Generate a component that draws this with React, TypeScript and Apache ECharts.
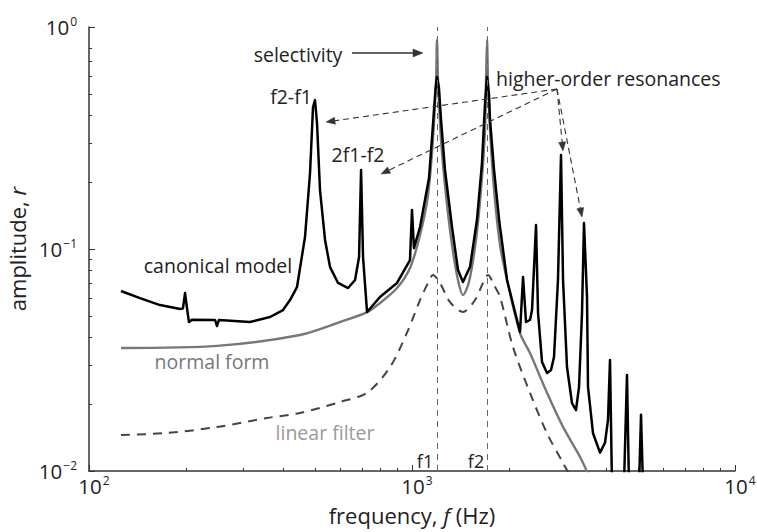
import React, { useEffect, useRef } from "react";
import * as echarts from "echarts";

const FONT = "'Open Sans', 'Noto Sans', sans-serif";

// Canonical model (black)
const canonicalFreq = [125.6, 143.8, 165.9, 191.3, 195.4, 198.3, 202.6, 204.0, 208.4, 245.5, 249.1, 252.6, 315.1, 363.5, 398.7, 419.1, 440.5, 466.4, 483.4, 493.8, 500.9, 508.0, 519.0, 538.0, 557.5, 590.3, 634.0, 666.3, 685.6, 695.5, 705.4, 725.8, 796.0, 898.7, 985.8, 1000, 1014, 1059, 1129, 1161, 1182, 1195, 1212, 1230, 1265, 1330, 1388, 1438, 1512, 1589, 1647, 1683, 1707, 1732, 1744, 1795, 1864, 1969, 2114, 2160, 2207, 2254, 2319, 2353, 2421, 2456, 2527, 2618, 2694, 2752, 2831, 2893, 2935, 3019, 3129, 3219, 3289, 3360, 3408, 3482, 3507, 3634, 3820, 3958, 4044, 4102, 4161, 4530, 4630, 4697, 5045, 5117, 5191];
const canonicalAmp = [0.0647, 0.0601, 0.0559, 0.0537, 0.054, 0.0633, 0.05, 0.0469, 0.048, 0.0479, 0.045, 0.0479, 0.0469, 0.0494, 0.0531, 0.0589, 0.0674, 0.1132, 0.2199, 0.4361, 0.469, 0.3694, 0.1844, 0.1098, 0.0829, 0.0703, 0.0667, 0.0725, 0.092, 0.2269, 0.092, 0.052, 0.0608, 0.0703, 0.0892, 0.1498, 0.101, 0.1256, 0.2089, 0.3619, 0.5202, 0.5956, 0.531, 0.3813, 0.2269, 0.1256, 0.0804, 0.071, 0.0829, 0.1351, 0.244, 0.4546, 0.5956, 0.494, 0.3813, 0.2269, 0.1323, 0.0725, 0.0479, 0.0423, 0.0748, 0.0469, 0.0479, 0.0531, 0.1282, 0.0515, 0.031, 0.0276, 0.0285, 0.0326, 0.0725, 0.2651, 0.0725, 0.0294, 0.0202, 0.0188, 0.0239, 0.0515, 0.1309, 0.0608, 0.0239, 0.0148, 0.0121, 0.0134, 0.017, 0.0316, 0.0085, 0.0085, 0.0271, 0.0085, 0.0085, 0.0179, 0.0085];

// Normal form (gray solid)
const normalFreq = [125.6, 249.1, 450.0, 598.8, 725.8, 796.0, 898.7, 985.8, 1059, 1121, 1161, 1187, 1195, 1204, 1230, 1274, 1330, 1388, 1438, 1501, 1578, 1635, 1683, 1695, 1707, 1719, 1744, 1795, 1873, 1969, 2160, 2319, 2618, 2935, 3311, 3557];
const normalAmp = [0.0358, 0.0366, 0.041, 0.0469, 0.052, 0.0571, 0.0667, 0.0821, 0.1156, 0.1751, 0.3097, 0.577, 0.874, 0.577, 0.3097, 0.1751, 0.1042, 0.0725, 0.062, 0.071, 0.1098, 0.1844, 0.3436, 0.577, 0.874, 0.577, 0.3436, 0.1844, 0.1042, 0.0725, 0.0418, 0.034, 0.0225, 0.0158, 0.0116, 0.0093];

// Linear filter (dashed)
const linearFreq = [125.6, 174.3, 249.1, 355.7, 450.0, 598.8, 725.8, 855, 965, 1059, 1121, 1161, 1221, 1311, 1438, 1567, 1659, 1719, 1795, 1873, 2054, 2319, 2618, 2935, 3197];
const linearAmp = [0.01453, 0.01483, 0.01578, 0.01733, 0.01826, 0.02046, 0.0225, 0.0294, 0.042, 0.0589, 0.0703, 0.0764, 0.0703, 0.0577, 0.052, 0.0589, 0.0703, 0.0764, 0.0688, 0.0608, 0.0362, 0.0225, 0.0148, 0.01086, 0.0087];

const F1 = 1200;
const F2 = 1705;

const xMajor = [100, 1000, 10000];
const xMinor = [200, 300, 400, 500, 600, 700, 800, 900, 2000, 3000, 4000, 5000, 6000, 7000, 8000, 9000];
const yMajor = [0.01, 0.1, 1];
const yMinor = [0.02, 0.03, 0.04, 0.05, 0.06, 0.07, 0.08, 0.09, 0.2, 0.3, 0.4, 0.5, 0.6, 0.7, 0.8];

function arrow(x1: number, y1: number, x2: number, y2: number, dashed: boolean, color: string, width: number, hl = 9, hw = 3.5) {
  const a = Math.atan2(y2 - y1, x2 - x1);
  const bx = x2 - hl * Math.cos(a);
  const by = y2 - hl * Math.sin(a);
  const px = -Math.sin(a), py = Math.cos(a);
  return [
    {
      type: "line",
      shape: { x1, y1, x2: bx, y2: by },
      style: { stroke: color, lineWidth: width, lineDash: dashed ? [6, 4] : null },
      z: 100,
    },
    {
      type: "polygon",
      shape: { points: [[x2, y2], [bx + hw * px, by + hw * py], [bx - hw * px, by - hw * py]] },
      style: { fill: color, stroke: color, lineWidth: 0.5 },
      z: 100,
    },
  ];
}

function txt(text: string, x: number, y: number, color: string, size = 19.5, align = "center") {
  return {
    type: "text",
    x,
    y,
    z: 100,
    style: {
      text,
      fill: color,
      fontSize: size,
      fontFamily: FONT,
      align,
      verticalAlign: "middle",
      textAlign: align,
      textVerticalAlign: "middle",
    },
  };
}

export default function App() {
  const ref = useRef<HTMLDivElement>(null);
  useEffect(() => {
    const chart = echarts.init(ref.current!, null, { renderer: "svg" });
    const zip = (f: number[], a: number[]) => f.map((v, i) => [v, a[i]]);
    const sup = (v: number) => {
      const e = Math.round(Math.log10(v));
      return `{b|10}{s|${e < 0 ? "\u2212" + -e : e}}`;
    };
    const rich = {
      b: { fontSize: 20.5, fontFamily: FONT, color: "#222", lineHeight: 24 },
      s: { fontSize: 12, fontFamily: FONT, color: "#222", verticalAlign: "top", lineHeight: 24, padding: [0, 0, 0, 1] },
    };
    const nameStyle = {
      fontSize: 22,
      fontFamily: FONT,
      color: "#222",
      rich: { i: { fontSize: 22, fontFamily: FONT, fontStyle: "italic", color: "#222" } },
    };
    const axisColor = "#333";
    const option: any = {
      animation: false,
      backgroundColor: "#fff",
      grid: { left: 89, right: 22, top: 27, bottom: 61, containLabel: false, outerBoundsMode: "none" },
      xAxis: [
        {
          type: "log",
          logBase: 10,
          min: 100,
          max: 10000,
          name: "frequency, {i|f} (Hz)",
          nameLocation: "middle",
          nameGap: 33,
          nameTextStyle: nameStyle,
          axisLine: { show: true, lineStyle: { color: axisColor, width: 1.5 } },
          axisTick: { show: true, inside: true, length: 6, customValues: xMajor, lineStyle: { color: axisColor, width: 1 } },
          axisLabel: { show: true, customValues: xMajor, formatter: sup, rich, margin: 3, padding: [0, 0, 0, 10] },
          splitLine: { show: false },
          minorTick: { show: false },
        },
        {
          type: "log",
          logBase: 10,
          min: 100,
          max: 10000,
          position: "bottom",
          axisLine: { show: false },
          axisTick: { show: true, inside: true, length: 3, customValues: xMinor, lineStyle: { color: axisColor, width: 1 } },
          axisLabel: { show: false },
          splitLine: { show: false },
        },
      ],
      yAxis: [
        {
          type: "log",
          logBase: 10,
          min: 0.01,
          max: 1,
          name: "amplitude, {i|r}",
          nameLocation: "middle",
          nameGap: 48,
          nameRotate: 90,
          nameTextStyle: nameStyle,
          axisLine: { show: true, lineStyle: { color: axisColor, width: 1.5 } },
          axisTick: { show: true, inside: true, length: 6, customValues: yMajor, lineStyle: { color: axisColor, width: 1 } },
          axisLabel: { show: true, customValues: yMajor, formatter: sup, rich, margin: 12 },
          splitLine: { show: false },
        },
        {
          type: "log",
          logBase: 10,
          min: 0.01,
          max: 1,
          position: "left",
          axisLine: { show: false },
          axisTick: { show: true, inside: true, length: 3, customValues: yMinor, lineStyle: { color: axisColor, width: 1 } },
          axisLabel: { show: false },
          splitLine: { show: false },
        },
      ],
      series: [
        {
          name: "linear filter",
          type: "line",
          data: zip(linearFreq, linearAmp),
          showSymbol: false,
          symbol: "none",
          smooth: 0.3,
          clip: true,
          lineStyle: { color: "#444", width: 2, type: [9, 7] },
          z: 2,
          markLine: {
            silent: true,
            symbol: "none",
            label: { show: false },
            lineStyle: { color: "#666", width: 1, type: [6, 5] },
            data: [{ xAxis: F1 }, { xAxis: F2 }],
          },
        },
        {
          name: "normal form",
          type: "line",
          data: zip(normalFreq, normalAmp),
          showSymbol: false,
          symbol: "none",
          smooth: 0.3,
          clip: true,
          lineStyle: { color: "#777", width: 2.4 },
          z: 3,
        },
        {
          name: "canonical model",
          type: "line",
          data: zip(canonicalFreq, canonicalAmp),
          showSymbol: false,
          symbol: "none",
          clip: true,
          lineStyle: { color: "#000", width: 2.5, join: "round" },
          z: 4,
        },
      ],
      graphic: [
        txt("selectivity", 298, 54, "#222"),
        ...arrow(352, 53, 423, 53, false, "#333", 1.3, 10, 4),
        txt("f2-f1", 291, 96, "#222"),
        txt("2f1-f2", 358, 154, "#222"),
        txt("higher-order resonances", 496, 78, "#222", 19.5, "left"),
        ...arrow(557, 89, 326, 122, true, "#333", 1.1),
        ...arrow(557, 89, 381, 174, true, "#333", 1.1),
        ...arrow(557, 89, 563, 151, true, "#333", 1.1),
        ...arrow(557, 89, 582, 217, true, "#333", 1.1),
        txt("canonical model", 218, 265, "#222"),
        txt("normal form", 212, 361, "#777"),
        txt("linear filter", 325, 432, "#9a9a9a"),
        txt("f1", 425, 461, "#222", 18),
        txt("f2", 476, 461, "#222", 18),
      ],
    };
    chart.setOption(option);
    return () => chart.dispose();
  }, []);
  return (
    <div
      ref={ref}
      style={{ position: "fixed", left: 0, top: 0, width: 757, height: 532, background: "#fff" }}
    />
  );
}
